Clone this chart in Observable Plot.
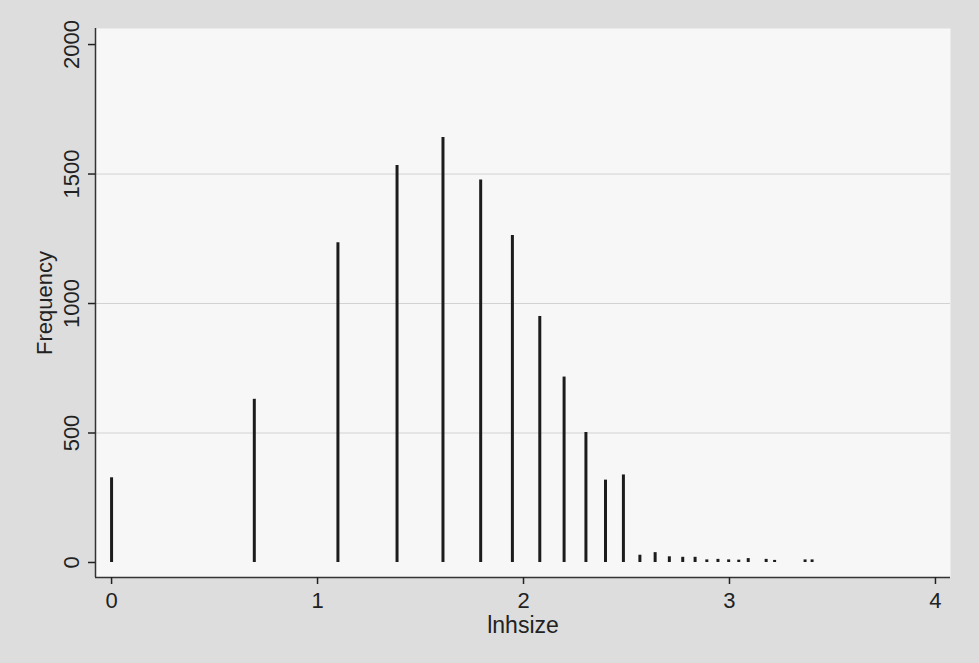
<!DOCTYPE html>
<html><head><meta charset="utf-8">
<script src="https://cdn.jsdelivr.net/npm/d3@7"></script>
<script src="https://cdn.jsdelivr.net/npm/@observablehq/plot@0.6"></script>
<style>
body{margin:0;background:#dddddd;}
#chart svg{display:block;}
</style>
</head><body><div id="chart"></div>
<script>
// Household size (log) and frequency
const lnhsize   = [0, 0.693, 1.099, 1.386, 1.609, 1.792, 1.946, 2.079, 2.197, 2.303, 2.398, 2.485, 2.565, 2.639, 2.708, 2.773, 2.833, 2.890, 2.944, 2.996, 3.045, 3.091, 3.178, 3.219, 3.367, 3.401];
const frequency = [327, 630, 1235, 1533, 1641, 1477, 1263, 950, 716, 502, 318, 338, 28, 38, 22, 20, 20, 10, 12, 10, 9, 15, 12, 8, 10, 10];
const xTicks = [0, 1, 2, 3, 4];
const yTicks = [0, 500, 1000, 1500, 2000];
const gridTicks = [500, 1000, 1500];
const xLabel = "lnhsize";
const yLabel = "Frequency";

const data = lnhsize.map((x, i) => ({x, f: frequency[i]}));
const xDomain = [-0.078, 4.073];
const yDomain = [-58, 2062];
const font = "'Liberation Sans', Arial, sans-serif";

const chart = Plot.plot({
  width: 979, height: 663,
  marginLeft: 95, marginRight: 29, marginTop: 28, marginBottom: 86,
  style: {background: "transparent", fontFamily: font, color: "#222"},
  x: {domain: xDomain},
  y: {domain: yDomain},
  marks: [
    Plot.frame({fill: "#f7f7f7", stroke: null}),
    Plot.ruleY(gridTicks, {stroke: "#d2d2d2", strokeWidth: 1}),
    Plot.ruleX(data, {x: "x", y: "f", stroke: "#1c1c1c", strokeWidth: 3}),
    Plot.ruleX([xDomain[0]], {stroke: "#333", strokeWidth: 1.5}),
    Plot.ruleY([yDomain[0]], {stroke: "#333", strokeWidth: 1.5}),
    Plot.axisX(xTicks, {tickSize: 7, tickPadding: 8, fontSize: 22, tickFormat: d => String(d), label: null, strokeWidth: 1.5}),
    Plot.axisY(yTicks, {tickSize: 7, tickFormat: () => "", label: null, strokeWidth: 1.5}),
    Plot.text(yTicks, {y: d => d, text: d => String(d), frameAnchor: "left", dx: -24, rotate: -90, textAnchor: "middle", fontSize: 22, fill: "#222"}),
    Plot.text([yLabel], {text: d => d, frameAnchor: "left", dx: -51, rotate: -90, textAnchor: "middle", fontSize: 22, fill: "#222"}),
    Plot.text([xLabel], {text: d => d, frameAnchor: "bottom", dy: 55, textAnchor: "middle", fontSize: 23, fill: "#222"})
  ]
});
document.getElementById("chart").append(chart);
</script>
</body></html>
